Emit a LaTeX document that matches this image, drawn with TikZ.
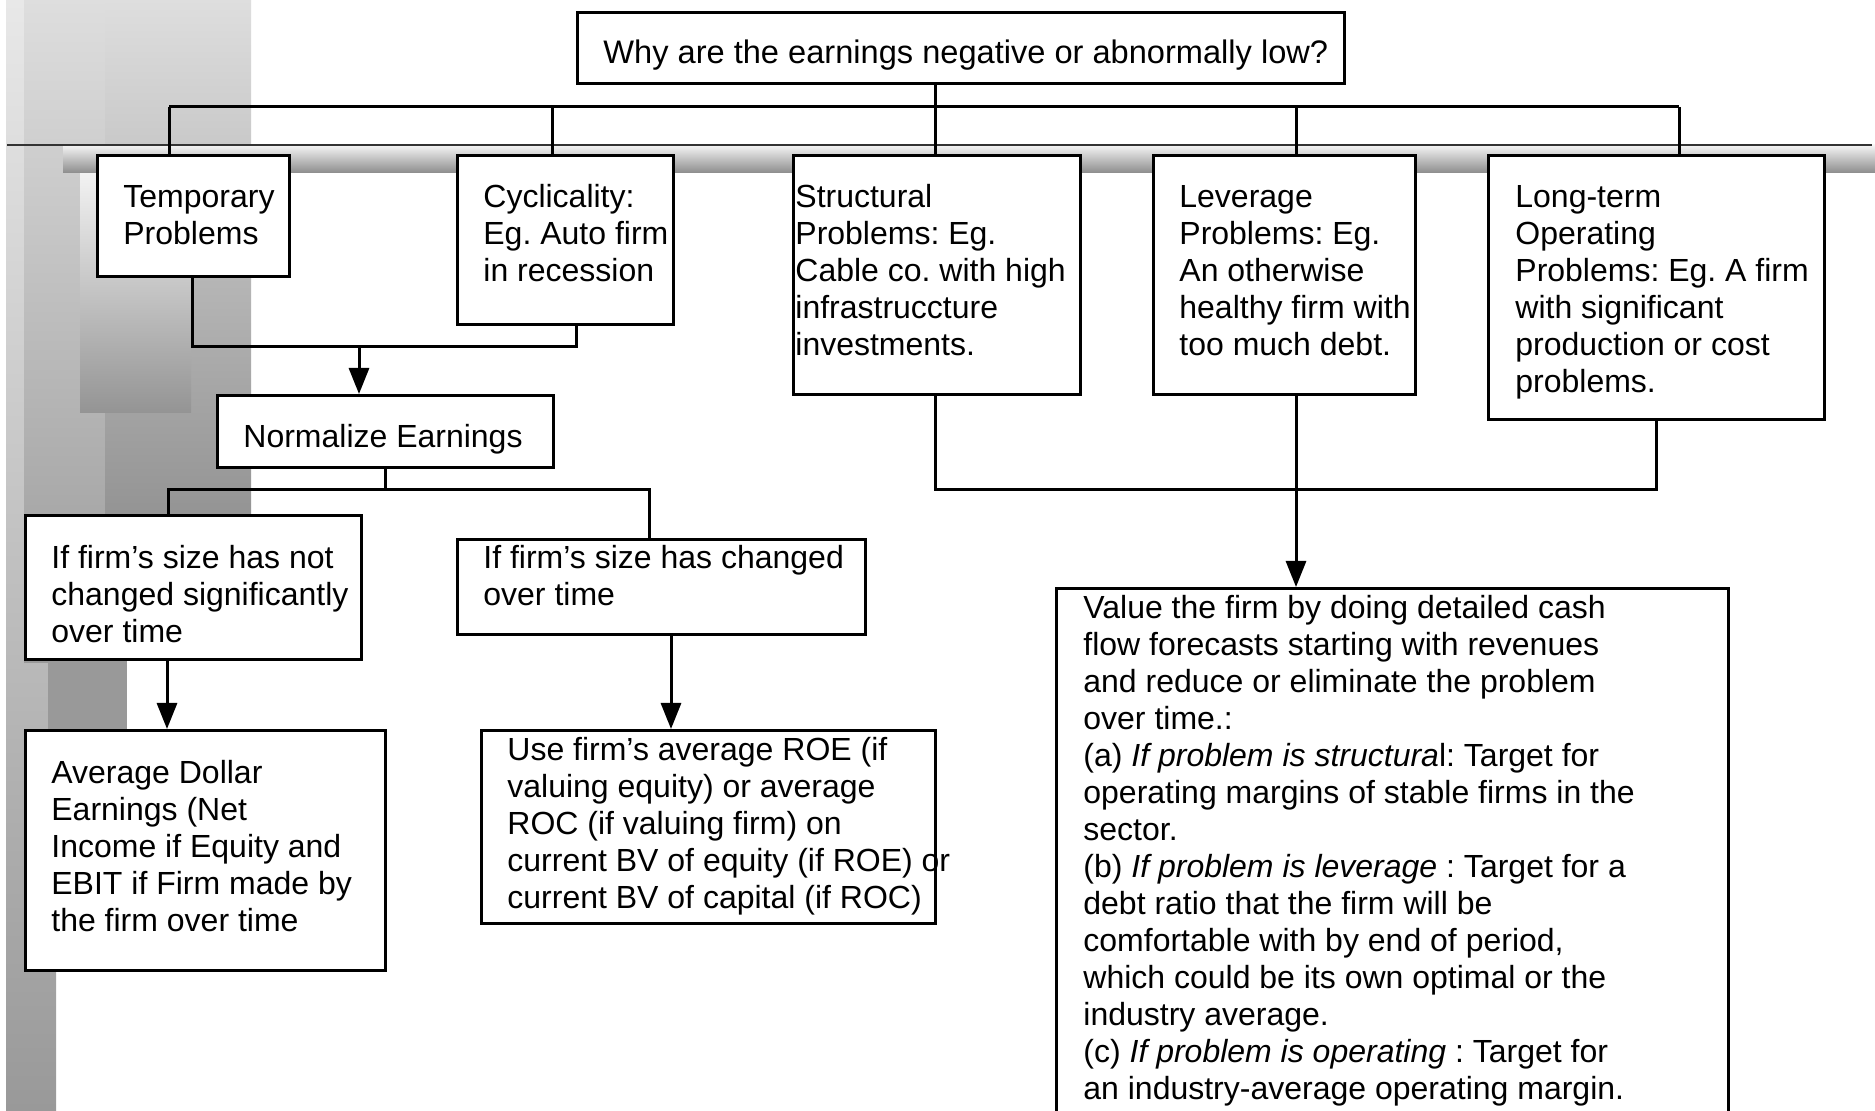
\documentclass[tikz,border=0pt]{standalone}
\usepackage{fontspec}
\setmainfont{Liberation Sans}
\usetikzlibrary{arrows.meta}
\frenchspacing
\definecolor{bgA}{gray}{0.91}
\definecolor{bgB}{gray}{0.60}
\definecolor{bgC}{gray}{0.87}
\definecolor{bgD}{gray}{0.58}
\definecolor{bgE}{gray}{0.95}
\definecolor{barT}{gray}{0.96}
\definecolor{barB}{gray}{0.55}
\begin{document}
\begin{tikzpicture}[x=0.5pt,y=-0.5pt,
  box/.style={draw=black, line width=1.5pt, fill=white, rectangle, inner sep=0pt, anchor=north west},
  txt/.style={anchor=base west, inner sep=0pt, align=left, font=\fontsize{16pt}{18.5pt}\selectfont\frenchspacing},
  conn/.style={draw=black, line width=1.5pt},
  arr/.style={draw=black, line width=1.5pt, -{Triangle[width=10pt,length=13pt]}}]
\useasboundingbox (0,0) rectangle (1875,1111);
\clip (0,0) rectangle (1875,1111);
% background decoration
\fill[white] (0,0) rectangle (1875,1111);
\shade[top color=bgA, bottom color=bgB] (6,0) rectangle (56,1111);
\shade[top color=bgC, bottom color=bgB] (24,0) rectangle (105,663);
\shade[top color=bgC, bottom color=bgD] (105,0) rectangle (251,514);
\fill[bgB] (48,514) rectangle (127,729);
\shade[top color=bgE, bottom color=bgD] (80,173) rectangle (191,413);
\shade[top color=barT, bottom color=barB] (63,145) rectangle (1875,173);
\draw[black!80, line width=1pt] (7,145) -- (1872,145);
% boxes
\node[box, minimum width=383.5pt, minimum height=35.5pt] (title) at (576,11) {};
\node[box, minimum width=96pt, minimum height=60.5pt] (temp) at (96,154) {};
\node[box, minimum width=108pt, minimum height=84.5pt] (cyc) at (456,154) {};
\node[box, minimum width=143.5pt, minimum height=119.5pt] (struct) at (792,154) {};
\node[box, minimum width=131pt, minimum height=119.5pt] (lev) at (1152,154) {};
\node[box, minimum width=168pt, minimum height=132pt] (long) at (1487,154) {};
\node[box, minimum width=168pt, minimum height=36pt] (norm) at (216,394) {};
\node[box, minimum width=168pt, minimum height=72pt] (notc) at (24,514) {};
\node[box, minimum width=204pt, minimum height=47.5pt] (chg) at (456,538) {};
\node[box, minimum width=180pt, minimum height=120pt] (avg) at (24,729) {};
\node[box, minimum width=227pt, minimum height=96.5pt] (roe) at (480,729) {};
\node[box, minimum width=336pt, minimum height=300pt] (val) at (1055,587) {};
% connectors
\coordinate (tj) at (935,107);
\coordinate (c1) at (169,107);
\coordinate (c2) at (552,107);
\coordinate (c4) at (1296,107);
\coordinate (c5) at (1679,107);
\draw[conn] (title.south -| tj) -- (tj);
\draw[conn] (c1) -- (c5);
\draw[conn] (c1) -- (c1 |- temp.north);
\draw[conn] (c2) -- (c2 |- cyc.north);
\draw[conn] (tj) -- (tj |- struct.north);
\draw[conn] (c4) -- (c4 |- lev.north);
\draw[conn] (c5) -- (c5 |- long.north);
\coordinate (m1) at (192,347);
\coordinate (m2) at (576,347);
\coordinate (ma) at (359,347);
\draw[conn] (m1 |- temp.south) -- (m1) -- (m2) -- (m2 |- cyc.south);
\draw[arr] (ma) -- (ma |- norm.north);
\coordinate (n0) at (385,490);
\coordinate (n1) at (168,490);
\coordinate (n2) at (649,490);
\draw[conn] (n0 |- norm.south) -- (n0);
\draw[conn] (n1 |- notc.north) -- (n1) -- (n2) -- (n2 |- chg.north);
\coordinate (a1) at (167,700);
\coordinate (a2) at (671,700);
\draw[arr] (a1 |- notc.south) -- (a1 |- avg.north);
\draw[arr] (a2 |- chg.south) -- (a2 |- roe.north);
\coordinate (s1) at (935,490);
\coordinate (s2) at (1656,490);
\coordinate (s3) at (1296,490);
\draw[conn] (s1 |- struct.south) -- (s1) -- (s2) -- (s2 |- long.south);
\draw[arr] (s3 |- lev.south) -- (s3 |- val.north);
% texts (anchor = baseline of the last line)
\node[txt, font=\fontsize{16.3pt}{18.5pt}\selectfont] (ttitle) at (603,64) {Why are the earnings negative or abnormally low?};
\node[txt] (ttemp) at (123,245) {Temporary\\Problems};
\node[txt] (tcyc) at (483,282) {Cyclicality:\\Eg. Auto firm\\in recession};
\node[txt] (tstruct) at (795,356) {Structural\\Problems: Eg.\\Cable co. with high\\infrastruccture\\investments.};
\node[txt] (tlev) at (1179,356) {Leverage\\Problems: Eg.\\An otherwise\\healthy firm with\\too much debt.};
\node[txt] (tlong) at (1515,393) {Long-term\\Operating\\Problems: Eg. A firm\\with significant\\production or cost\\problems.};
\node[txt] (tnorm) at (243,448) {Normalize Earnings};
\node[txt] (tnotc) at (51,643) {If firm’s size has not\\changed significantly\\over time};
\node[txt] (tchg) at (483,606) {If firm’s size has changed\\over time};
\node[txt] (tavg) at (51,932) {Average Dollar\\Earnings (Net\\Income if Equity and\\EBIT if Firm made by\\the firm over time};
\node[txt] (troe) at (507,909) {Use firm’s average ROE (if\\valuing equity) or average\\ROC (if valuing firm) on\\current BV of equity (if ROE) or\\current BV of capital (if ROC)};
\node[txt] (tval) at (1083,1099) {Value the firm by doing detailed cash\\flow forecasts starting with revenues\\and reduce or eliminate the problem\\over time.:\\(a) \textit{If problem is structura}l: Target for\\operating margins of stable firms in the\\sector.\\(b) \textit{If problem is leverage} : Target for a\\debt ratio that the firm will be\\comfortable with by end of period,\\which could be its own optimal or the\\industry average.\\(c) \textit{If problem is operating} : Target for\\an industry-average operating margin.};
\end{tikzpicture}
\end{document}
